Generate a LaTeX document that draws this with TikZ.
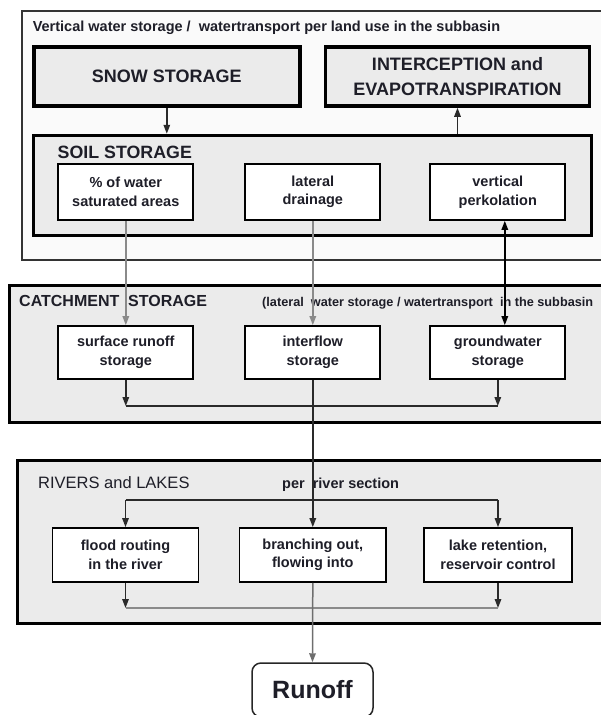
\documentclass[tikz,border=0pt]{standalone}
\usepackage{fontspec}
\setmainfont{Liberation Sans}
\usetikzlibrary{arrows.meta}
\definecolor{grp}{HTML}{EBEBEB}
\definecolor{txt}{HTML}{1E1E28}
\definecolor{gl}{HTML}{8A8A8A}
\definecolor{dl}{HTML}{2A2A2A}
\begin{document}
\begin{tikzpicture}[x=1pt,y=-1pt,
  tip/.style={-{Triangle[length=9pt,width=6.5pt]}},
  frame/.style={draw=black!80, fill=white!98!black, line width=1.2pt, inner sep=0pt},
  grpbox/.style={draw=black, fill=grp, line width=3pt, inner sep=0pt},
  bigbox/.style={draw=black, fill=grp, line width=3.5pt, inner sep=0pt, align=center,
    text=txt, font=\bfseries\fontsize{18}{25}\selectfont},
  box/.style={draw=black, fill=white, line width=1.8pt, inner sep=0pt, align=center,
    text=txt, font=\bfseries\fontsize{14.5}{18.5}\selectfont},
  lbl/.style={anchor=base west, inner sep=0pt, text=txt},
  darr/.style={tip, draw=dl, line width=1.5pt},
  garr/.style={tip, draw=gl, line width=1.5pt},
  dline/.style={draw=dl, line width=1.5pt},
  gline/.style={draw=gl, line width=1.5pt}]
\useasboundingbox (0,0) rectangle (601,715);
\clip (0,0) rectangle (601,715);

% ---- vertical storage frame
\node[frame, minimum width=598pt, minimum height=249pt] (top) at (321,135.5) {};
\node[lbl, font=\bfseries\fontsize{14.5}{17}\selectfont] (toplbl) at (32.6,31)
  {Vertical water storage /\ \ watertransport per land use in the subbasin};
\node[bigbox, minimum width=266pt, minimum height=59pt] (snow) at (166.8,76.5) {SNOW STORAGE};
\node[bigbox, minimum width=264pt, minimum height=59pt] (inter) at (457.5,76.5) {INTERCEPTION and\\EVAPOTRANSPIRATION};
\node[bigbox, minimum width=558pt, minimum height=100pt] (soil) at (312.5,185.5) {};
\node[lbl, font=\bfseries\fontsize{17.8}{20}\selectfont] (soillbl) at (57.5,158) {SOIL STORAGE};
\node[box, minimum width=135pt, minimum height=56pt] (pct) at (125.8,192) {\% of water\\saturated areas};
\node[box, minimum width=135pt, minimum height=56pt] (lat) at (312.8,192) {lateral\\drainage};
\node[box, minimum width=135pt, minimum height=56pt] (vert) at (497.8,192) {vertical\\perkolation};

% ---- catchment storage
\node[grpbox, minimum width=610.5pt, minimum height=137pt] (catch) at (314.75,353.5) {};
\node[lbl, font=\bfseries\fontsize{16}{18}\selectfont] (catchlbl) at (19,306.5) {CATCHMENT\ \ STORAGE};
\node[lbl, font=\bfseries\fontsize{12.7}{15}\selectfont] (catchnote) at (262,306)
  {(lateral\ \ water storage / watertransport\ \ in the subbasin};
\node[box, minimum width=135pt, minimum height=53pt] (surf) at (125.8,352.5) {surface runoff\\storage};
\node[box, minimum width=135pt, minimum height=53pt] (intf) at (312.8,352.5) {interflow\\storage};
\node[box, minimum width=135pt, minimum height=53pt] (gw) at (497.8,352.5) {groundwater\\storage};

% ---- rivers and lakes
\node[grpbox, minimum width=603pt, minimum height=163pt] (riv) at (318.5,541.5) {};
\node[lbl, font=\fontsize{16.5}{18}\selectfont] (rivlbl) at (38,488) {RIVERS and LAKES};
\node[lbl, font=\bfseries\fontsize{14.5}{17}\selectfont] (rivnote) at (282,488) {per\ \ river section};
\node[box, minimum width=146pt, minimum height=54pt] (flood) at (125.5,555) {flood routing\\in the river};
\node[box, minimum width=146.5pt, minimum height=54pt] (branch) at (312.8,555) {branching out,\\flowing into};
\node[box, minimum width=148pt, minimum height=54pt] (lake) at (498,555) {lake retention,\\reservoir control};

% ---- runoff
\node[draw=black!85, fill=white, line width=1.5pt, rounded corners=9pt, inner sep=0pt,
  minimum width=121pt, minimum height=54pt, text=txt, font=\bfseries\fontsize{25}{28}\selectfont]
  (runoff) at (312.5,690) {Runoff};

% ---- connectors
\draw[darr] (snow.south) -- (snow.south |- soil.north);
\draw[darr] (inter.south |- soil.north) -- (inter.south);

\draw[garr] (pct.south) -- (surf.north);
\draw[garr] (lat.south) -- (intf.north);
\draw[line width=1.5pt, draw=black, {Triangle[length=9pt,width=6.5pt]}-{Triangle[length=9pt,width=6.5pt]}]
  ([xshift=7pt]vert.south) -- ([xshift=7pt]gw.north);

\coordinate (cL) at (125.8,406);
\coordinate (cR) at (497.8,406);
\draw[darr] (surf.south) -- (cL);
\draw[darr] (gw.south) -- (cR);
\draw[dline] (cL) -- (cR);
\draw[darr] (intf.south) -- (branch.north);

\coordinate (dL) at (125.5,500);
\coordinate (dR) at (498,500);
\draw[dline] (dL) -- (dR);
\draw[darr] (dL) -- (flood.north);
\draw[darr] (dR) -- (lake.north);

\coordinate (eL) at (125.5,608);
\coordinate (eR) at (498,608);
\draw[darr] (flood.south) -- (eL);
\draw[darr] (lake.south) -- (eR);
\draw[gline] (eL) -- (eR);
\draw[darr, draw=gl!80!black] (branch.south) -- (runoff.north);
\end{tikzpicture}
\end{document}
